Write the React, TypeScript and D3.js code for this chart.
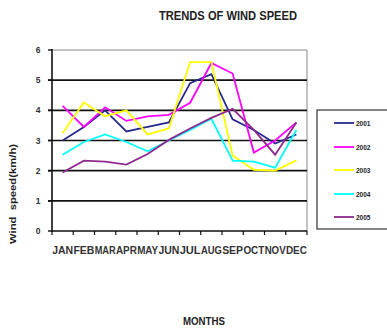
import React from "react";
import * as d3 from "d3";

const months = ["JAN","FEB","MAR","APR","MAY","JUN","JUL","AUG","SEP","OCT","NOV","DEC"];
const seriesNames = ["2001","2002","2003","2004","2005"];
const s2001 = [3.0, 3.45, 4.0, 3.3, 3.45, 3.6, 4.9, 5.2, 3.7, 3.35, 2.9, 3.2];
const s2002 = [4.15, 3.45, 4.1, 3.65, 3.8, 3.85, 4.25, 5.57, 5.22, 2.6, 3.0, 3.6];
const s2003 = [3.25, 4.26, 3.8, 4.0, 3.2, 3.4, 5.6, 5.6, 2.5, 2.03, 2.0, 2.34];
const s2004 = [2.53, 2.95, 3.2, 2.95, 2.64, 3.0, 3.35, 3.72, 2.33, 2.3, 2.1, 3.35];
const s2005 = [1.94, 2.33, 2.3, 2.2, 2.55, 3.02, 3.4, 3.75, 4.05, 3.35, 2.53, 3.6];
const yTicks = [0, 1, 2, 3, 4, 5, 6];
const colors = ["#2a2a8c", "#ff00ff", "#ffff00", "#00ffff", "#8e2a8e"];

const W = 387, H = 329;
const left = 52, right = 307, top = 50, bottom = 231;

export default function App() {
  const allSeries = [s2001, s2002, s2003, s2004, s2005];
  const x = d3.scaleBand().domain(months).range([left, right]);
  const y = d3.scaleLinear().domain([0, 6]).range([bottom, top]);
  const line = d3.line<number>()
    .x((_, i) => (x(months[i]) as number) + x.bandwidth() / 2)
    .y((d) => y(d));
  const font = "'Liberation Sans', Arial, sans-serif";
  const legendRows = [123, 147, 170, 194, 217];
  return (
    <svg width={W} height={H} style={{ position: "absolute", left: 0, top: 0, background: "#fff" }}
      fontFamily={font}>
      <text x={228} y={19.5} textAnchor="middle" fontSize={12} fontWeight="bold" fill="#222"
        textLength={138} lengthAdjust="spacingAndGlyphs">
        TRENDS OF WIND SPEED
      </text>
      {/* plot border (top/right) */}
      <line x1={left} x2={right} y1={top} y2={top} stroke="#888" strokeWidth={1} />
      <line x1={right} x2={right} y1={top} y2={bottom} stroke="#888" strokeWidth={1} />
      {/* gridlines */}
      {yTicks.filter((t) => t > 0 && t < 6).map((t) => (
        <line key={t} x1={left - 4} x2={right} y1={y(t)} y2={y(t)} stroke="#111" strokeWidth={1.6} />
      ))}
      {/* y ticks */}
      {yTicks.map((t) => (
        <g key={"yt" + t}>
          <line x1={left - 4} x2={left} y1={y(t)} y2={y(t)} stroke="#111" strokeWidth={1.4} />
          <text x={38} y={y(t) + 3} textAnchor="middle" fontSize={8.5} fontWeight="bold" fill="#333">{t}</text>
        </g>
      ))}
      {/* axes */}
      <line x1={left} x2={left} y1={top - 1} y2={bottom + 1} stroke="#111" strokeWidth={1.6} />
      <line x1={left} x2={right} y1={bottom} y2={bottom} stroke="#111" strokeWidth={1.6} />
      {/* x ticks */}
      {months.concat(["end"]).map((m, i) => {
        const xx = left + i * x.bandwidth();
        return <line key={"xt" + i} x1={xx} x2={xx} y1={bottom} y2={bottom + 4} stroke="#111" strokeWidth={1.2} />;
      })}
      {months.map((m) => (
        <text key={"xl" + m} x={(x(m) as number) + x.bandwidth() / 2} y={254} textAnchor="middle"
          fontSize={10} fontWeight="bold" fill="#333" textLength={21} lengthAdjust="spacingAndGlyphs">{m}</text>
      ))}
      {/* series */}
      {allSeries.map((s, k) => (
        <path key={"s" + k} d={line(s) || ""} fill="none" stroke={colors[k]} strokeWidth={1.8} />
      ))}
      {/* axis titles */}
      <text x={204} y={325} textAnchor="middle" fontSize={10.5} fontWeight="bold" fill="#222"
        textLength={42} lengthAdjust="spacingAndGlyphs">MONTHS</text>
      <text transform={`translate(16,194) rotate(-90)`} textAnchor="middle" fontSize={9} fontWeight="bold"
        fill="#222" style={{ whiteSpace: "pre" }} textLength={100} lengthAdjust="spacingAndGlyphs">{"Wind  speed(km/h)"}</text>
      {/* legend */}
      <rect x={317} y={110} width={80} height={119} fill="#fff" stroke="#333" strokeWidth={1.2} />
      {seriesNames.map((n, k) => (
        <g key={"lg" + n}>
          <line x1={334} x2={354} y1={legendRows[k]} y2={legendRows[k]} stroke={colors[k]} strokeWidth={1.8} />
          <text x={356} y={legendRows[k] + 2.5} fontSize={6.5} fontWeight="bold" fill="#222">{n}</text>
        </g>
      ))}
    </svg>
  );
}
